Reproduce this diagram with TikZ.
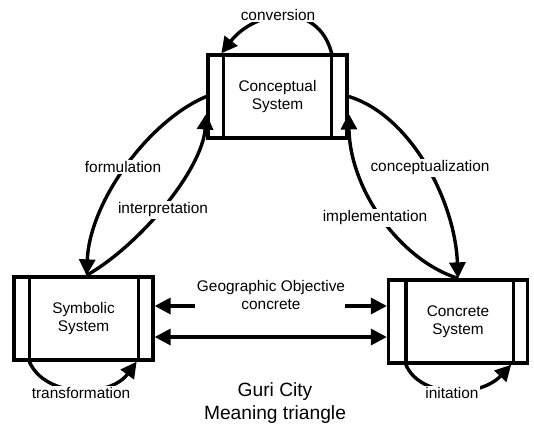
\documentclass[tikz,border=0pt]{standalone}
\usepackage{fontspec}
\setmainfont{Liberation Sans}
\usetikzlibrary{arrows.meta}
\begin{document}
\begin{tikzpicture}[x=1pt,y=-1pt,
  txt/.style={font=\fontsize{15.4}{18}\selectfont},
  sysbox/.style={txt, draw, line width=3.3pt, minimum width=139pt, minimum height=83pt,
    inner sep=0pt, align=center},
  bar/.style={line width=3.3pt},
  flow/.style={line width=3.4pt, -{Triangle[length=16pt,width=16pt]}},
  twoway/.style={line width=3.4pt, {Triangle[length=16pt,width=16pt]}-{Triangle[length=16pt,width=16pt]}},
  lbl/.style={txt, fill=white, inner sep=1.5pt, align=center},
]
\useasboundingbox (0,0) rectangle (534,424);

% the three systems
\node[sysbox] (concept)  at (277.5,96.5) {Conceptual\\System};
\node[sysbox] (symbolic) at (83.5,318.5) {Symbolic\\System};
\node[sysbox] (concrete) at (458,321.5)  {Concrete\\System};

% side bars inside each box
\foreach \n/\l/\r in {concept/17/17, symbolic/17/16, concrete/19/16}{
  \draw[bar] ([xshift=\l pt]\n.north west) -- ([xshift=\l pt]\n.south west);
  \draw[bar] ([xshift=-\r pt]\n.north east) -- ([xshift=-\r pt]\n.south east);
}

% self loops
\draw[flow] ([xshift=-17pt]concept.north east) .. controls (318,0) and (255,10) .. ([xshift=15pt]concept.north west);
\node[lbl] (conv) at (278,15) {conversion};

\draw[flow] ([xshift=17pt]symbolic.south west) .. controls (45,398) and (110,398) .. ([xshift=-18pt]symbolic.south east);
\node[lbl] (trans) at (81,393) {transformation};

\draw[flow] ([xshift=19pt]concrete.south west) .. controls (420,398) and (480,398) .. ([xshift=-18pt]concrete.south east);
\node[lbl] (init) at (452,393) {initation};

% left side of the triangle
\draw[flow] (concept.west) .. controls (150,120) and (90,200) .. ([xshift=3pt]symbolic.north);
\node[lbl] (form) at (123,167) {formulation};

\draw[flow] ([xshift=3pt]symbolic.north) .. controls (140,245) and (202,170) .. ([yshift=-17pt]concept.west);
\node[lbl] (interp) at (163,210) {interpretation};

% right side of the triangle
\draw[flow] (concept.east) .. controls (410,115) and (455,200) .. (concrete.north);
\node[lbl] (concz) at (430,168) {conceptualization};

\draw[flow] (concrete.north) .. controls (400,260) and (350,190) .. ([yshift=-17pt]concept.east);
\node[lbl] (impl) at (375,218) {implementation};

% base of the triangle
\node[txt, align=center] (geo) at (271,295) {Geographic Objective\\concrete};
\coordinate (gl) at (195,306);
\coordinate (gr) at (345,306);
\coordinate (low) at (0,337);
\draw[flow] (gl) -- (gl -| symbolic.east);
\draw[flow] (gr) -- (gr -| concrete.west);
\draw[twoway] (low -| symbolic.east) -- (low -| concrete.west);

% caption
\node[font=\fontsize{19.2}{23}\selectfont, align=center] (cap) at (275,403) {Guri City\\Meaning triangle};
\end{tikzpicture}
\end{document}
